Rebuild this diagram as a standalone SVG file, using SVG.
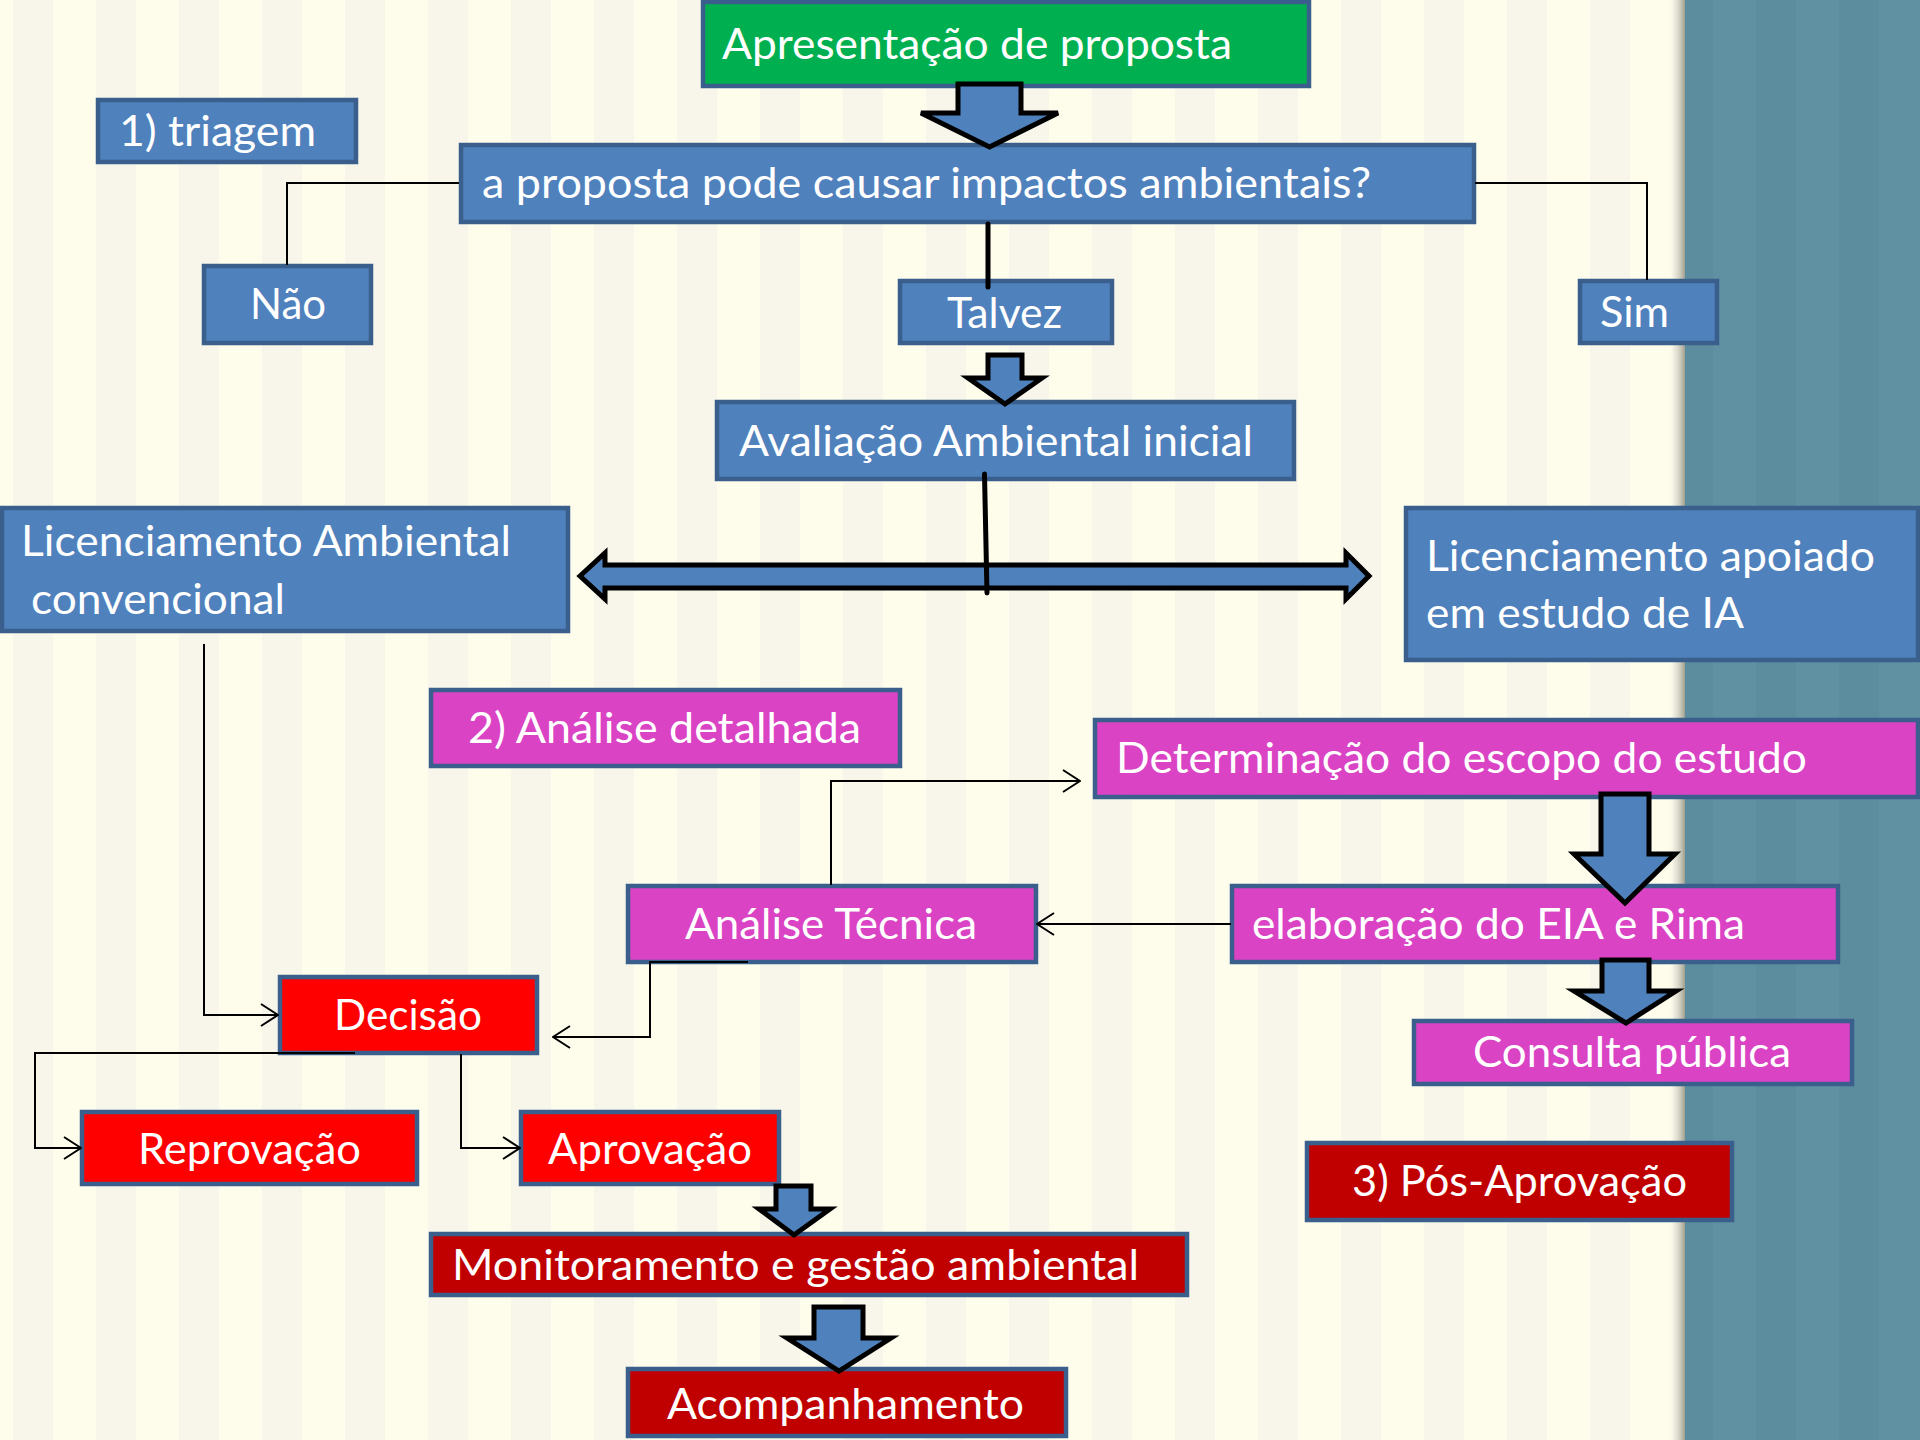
<svg xmlns="http://www.w3.org/2000/svg" width="1920" height="1440" viewBox="0 0 1920 1440">
<defs>
<pattern id="stripes" x="13" y="0" width="83" height="1440" patternUnits="userSpaceOnUse">
<rect x="0" y="0" width="83" height="1440" fill="#FEFDEC"/>
<rect x="0" y="0" width="40" height="1440" fill="#F8F6EA"/>
</pattern>
<pattern id="tealstripes" x="13" y="0" width="83" height="1440" patternUnits="userSpaceOnUse">
<rect x="0" y="0" width="83" height="1440" fill="#5F91A2"/>
<rect x="0" y="0" width="40" height="1440" fill="#5C8D9E"/>
</pattern>
<linearGradient id="shadow" x1="0" y1="0" x2="1" y2="0">
<stop offset="0" stop-color="#FEFDEC" stop-opacity="0"/>
<stop offset="1" stop-color="#8A8878" stop-opacity="0.9"/>
</linearGradient>
<marker id="open" viewBox="0 0 20 24" refX="19" refY="12" markerWidth="20" markerHeight="24" markerUnits="userSpaceOnUse" orient="auto">
<path d="M2,1 L19,12 L2,23" fill="none" stroke="#000" stroke-width="2"/>
</marker>
<style>
.box{stroke:#3B5F8D;stroke-width:4.5}
.blue{fill:#4F81BD}
.green{fill:#00B050}
.mag{fill:#DA43C4}
.red{fill:#FF0000}
.dred{fill:#C00000}
.t{font-family:Lato,"Liberation Sans",sans-serif;font-size:43px;fill:#FFFFFF}
.thin{fill:none;stroke:#000;stroke-width:2}
.thick{fill:none;stroke:#000;stroke-width:5;stroke-linecap:round}
.barrow{fill:#4F81BD;stroke:#000;stroke-width:5;stroke-linejoin:miter}
</style>
</defs>
<g id="background">
<rect x="0" y="0" width="1920" height="1440" fill="url(#stripes)"/>
<rect x="1668" y="0" width="18" height="1440" fill="url(#shadow)"/>
<rect x="1685" y="0" width="235" height="1440" fill="url(#tealstripes)"/>
</g>
<g id="n-apresentacao"><rect class="box green" x="703" y="2" width="606" height="84"/><text class="t" x="722" y="59" textLength="510" lengthAdjust="spacingAndGlyphs">Apresentação de proposta</text></g>
<g id="n-triagem"><rect class="box blue" x="98" y="100" width="258" height="62"/><text class="t" x="119" y="146" textLength="197" lengthAdjust="spacingAndGlyphs">1) triagem</text></g>
<g id="n-pergunta"><rect class="box blue" x="461" y="145" width="1013" height="77"/><text class="t" x="482" y="198" textLength="889" lengthAdjust="spacingAndGlyphs">a proposta pode causar impactos ambientais?</text></g>
<g id="n-nao"><rect class="box blue" x="204" y="266" width="167" height="77"/><text class="t" x="250" y="319" textLength="76" lengthAdjust="spacingAndGlyphs">Não</text></g>
<g id="n-talvez"><rect class="box blue" x="900" y="281" width="212" height="62"/><text class="t" x="947" y="328" textLength="115" lengthAdjust="spacingAndGlyphs">Talvez</text></g>
<g id="n-sim"><rect class="box blue" x="1580" y="281" width="137" height="62"/><text class="t" x="1600" y="327" textLength="69" lengthAdjust="spacingAndGlyphs">Sim</text></g>
<g id="n-avaliacao"><rect class="box blue" x="717" y="402" width="577" height="77"/><text class="t" x="739" y="456" textLength="514" lengthAdjust="spacingAndGlyphs">Avaliação Ambiental inicial</text></g>
<g id="n-lic-convencional"><rect class="box blue" x="2" y="508" width="566" height="123"/><text class="t" x="21" y="556" textLength="490" lengthAdjust="spacingAndGlyphs">Licenciamento Ambiental</text><text class="t" x="31" y="614" textLength="254" lengthAdjust="spacingAndGlyphs">convencional</text></g>
<g id="n-lic-apoiado"><rect class="box blue" x="1406" y="508" width="512" height="152"/><text class="t" x="1426" y="571" textLength="449" lengthAdjust="spacingAndGlyphs">Licenciamento apoiado</text><text class="t" x="1426" y="628" textLength="318" lengthAdjust="spacingAndGlyphs">em estudo de IA</text></g>
<g id="n-analise-detalhada"><rect class="box mag" x="431" y="690" width="469" height="76"/><text class="t" x="468" y="743" textLength="393" lengthAdjust="spacingAndGlyphs">2) Análise detalhada</text></g>
<g id="n-determinacao"><rect class="box mag" x="1095" y="720" width="823" height="77"/><text class="t" x="1116" y="773" textLength="691" lengthAdjust="spacingAndGlyphs">Determinação do escopo do estudo</text></g>
<g id="n-analise-tecnica"><rect class="box mag" x="628" y="886" width="408" height="76"/><text class="t" x="685" y="939" textLength="292" lengthAdjust="spacingAndGlyphs">Análise Técnica</text></g>
<g id="n-elaboracao"><rect class="box mag" x="1232" y="886" width="606" height="76"/><text class="t" x="1252" y="939" textLength="493" lengthAdjust="spacingAndGlyphs">elaboração do EIA e Rima</text></g>
<g id="n-consulta"><rect class="box mag" x="1414" y="1021" width="438" height="63"/><text class="t" x="1473" y="1067" textLength="318" lengthAdjust="spacingAndGlyphs">Consulta pública</text></g>
<g id="n-decisao"><rect class="box red" x="280" y="977" width="257" height="76"/><text class="t" x="334" y="1030" textLength="148" lengthAdjust="spacingAndGlyphs">Decisão</text></g>
<g id="n-reprovacao"><rect class="box red" x="82" y="1112" width="335" height="72"/><text class="t" x="138" y="1164" textLength="223" lengthAdjust="spacingAndGlyphs">Reprovação</text></g>
<g id="n-aprovacao"><rect class="box red" x="521" y="1112" width="258" height="72"/><text class="t" x="548" y="1164" textLength="204" lengthAdjust="spacingAndGlyphs">Aprovação</text></g>
<g id="n-pos-aprovacao"><rect class="box dred" x="1307" y="1143" width="425" height="77"/><text class="t" x="1352" y="1196" textLength="335" lengthAdjust="spacingAndGlyphs">3) Pós-Aprovação</text></g>
<g id="n-monitoramento"><rect class="box dred" x="431" y="1234" width="756" height="61"/><text class="t" x="452" y="1280" textLength="687" lengthAdjust="spacingAndGlyphs">Monitoramento e gestão ambiental</text></g>
<g id="n-acompanhamento"><rect class="box dred" x="628" y="1369" width="438" height="67"/><text class="t" x="667" y="1419" textLength="357" lengthAdjust="spacingAndGlyphs">Acompanhamento</text></g>
<g id="connectors">
<path class="barrow" d="M958,84 H1021 V113 H1058 L989.5,147 L921,113 H958 Z"/>
<path class="barrow" d="M988,355 H1022 V378 H1042 L1005,404 L968,378 H988 Z"/>
<path class="barrow" d="M580,576 L605,553 V565 H1346 V553 L1369,576 L1346,599 V588 H605 V599 Z" stroke-width="4.5" stroke-linejoin="round"/>
<path class="barrow" d="M1601,794 H1649 V854 H1675 L1625,903 L1574,854 H1601 Z"/>
<path class="barrow" d="M1602,960 H1649 V991 H1676 L1626,1023 L1574,991 H1602 Z"/>
<path class="barrow" d="M776,1186 H811 V1209 H830 L794,1235 L759,1209 H776 Z"/>
<path class="barrow" d="M814,1307 H863 V1338 H891 L839,1371 L787,1338 H814 Z"/>
<path class="thin" d="M459,183 H287 V265"/>
<path class="thin" d="M1475,183 H1647 V280"/>
<path class="thick" d="M988,224 V287"/>
<path class="thick" d="M984.5,474 L987,593"/>
<path class="thin" d="M204,644 V1015 H278" marker-end="url(#open)"/>
<path class="thin" d="M748,962 H650 V1037 H553" marker-end="url(#open)"/>
<path class="thin" d="M355,1053 H35 V1148 H81" marker-end="url(#open)"/>
<path class="thin" d="M461,1054 V1148 H520" marker-end="url(#open)"/>
<path class="thin" d="M831,885 V781 H1080" marker-end="url(#open)"/>
<path class="thin" d="M1231,924 H1037" marker-end="url(#open)"/>
</g>
</svg>
